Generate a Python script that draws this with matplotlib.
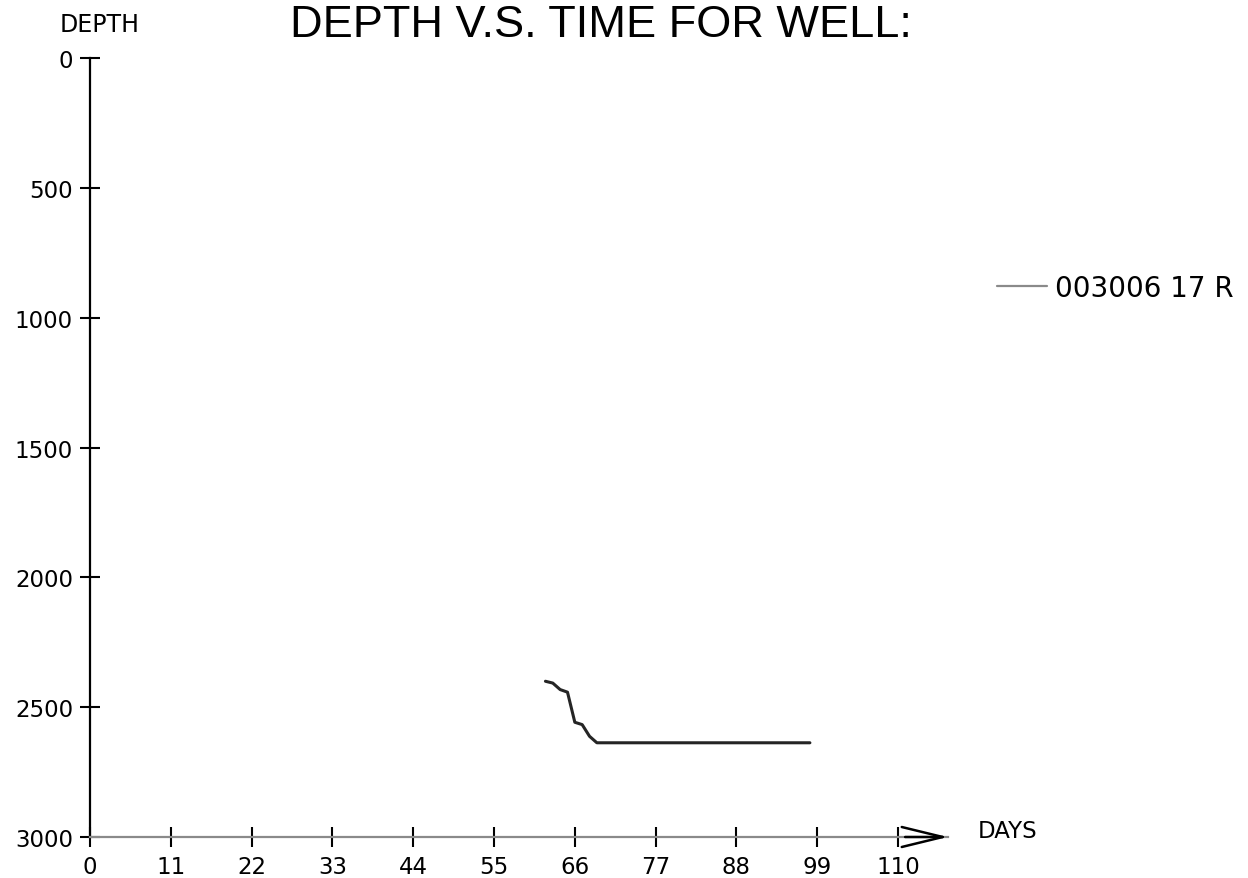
import matplotlib
matplotlib.use("Agg")
import matplotlib.pyplot as plt

# ---- data ----
days = [62, 63, 64, 65, 66, 67, 68, 69, 98]
depths = [2400, 2407, 2432, 2442, 2558, 2567, 2612, 2637, 2637]
series_label = "003006 17 R"
x_ticks = [0, 11, 22, 33, 44, 55, 66, 77, 88, 99, 110]
y_ticks = [0, 500, 1000, 1500, 2000, 2500, 3000]
title = "DEPTH V.S. TIME FOR WELL:"

W, H = 1248, 879
fig = plt.figure(figsize=(W / 100, H / 100), dpi=100)
fig.patch.set_facecolor("white")

left, right = 90, 948
top, bottom = 59.3, 838
ax = fig.add_axes([left / W, 1 - bottom / H, (right - left) / W, (bottom - top) / H])
ax.set_facecolor("white")

line, = ax.plot(days, depths, color="#252525", lw=2.2, solid_joinstyle="round",
                solid_capstyle="round", label=series_label)

ax.set_xlim(0, 116.8)
ax.set_ylim(3000, 0)
ax.set_xticks(x_ticks)
ax.set_yticks(y_ticks)
ax.set_xticklabels([str(v) for v in x_ticks])
ax.set_yticklabels([str(v) for v in y_ticks])

for s in ("top", "right"):
    ax.spines[s].set_visible(False)
ax.spines["left"].set_color("black")
ax.spines["left"].set_linewidth(1.6)
ax.spines["bottom"].set_color("#8a8a8a")
ax.spines["bottom"].set_linewidth(1.6)

ax.tick_params(axis="both", direction="inout", length=14.4, width=1.5,
               color="black", labelsize=16.5, labelcolor="black")
ax.tick_params(axis="x", pad=6)
ax.tick_params(axis="y", pad=5)
for lab in ax.get_xticklabels() + ax.get_yticklabels():
    lab.set_family("DejaVu Sans")

# open chevron arrow at the end of the x axis
ax.annotate("", xy=(1.0, 0.0), xycoords="axes fraction",
            xytext=(0.95, 0.0), textcoords="axes fraction",
            arrowprops=dict(arrowstyle="->,head_length=2.95,head_width=0.72",
                            color="black", lw=1.8, shrinkA=0, shrinkB=0,
                            mutation_scale=10))

# texts
fig.text(601 / W, 1 - 37 / H, title, ha="center", va="baseline",
         family="Liberation Sans", fontsize=32.5, color="black")
fig.text(100 / W, 1 - 31.7 / H, "DEPTH", ha="center", va="baseline",
         family="DejaVu Sans", fontsize=17, color="black")
fig.text(978 / W, 1 - 838 / H, "DAYS", ha="left", va="baseline",
         family="DejaVu Sans", fontsize=16.5, color="black")

# legend at right
leg = fig.legend(handles=[line], labels=[series_label], loc="center left",
                 bbox_to_anchor=(997 / W, 1 - 289 / H), frameon=False,
                 borderaxespad=0, borderpad=0, handlelength=1.8,
                 handletextpad=0.3, prop={"family": "DejaVu Sans", "size": 20})
leg.get_lines()[0].set_color("#8a8a8a")
leg.get_lines()[0].set_linewidth(1.6)

fig.savefig("out.png", dpi=100, facecolor="white")
